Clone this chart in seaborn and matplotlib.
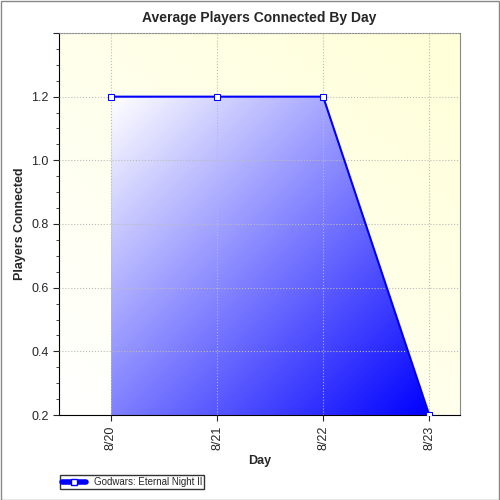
import numpy as np
import matplotlib
matplotlib.use("Agg")
import matplotlib.pyplot as plt
import seaborn as sns
from matplotlib.colors import LinearSegmentedColormap
from matplotlib.patches import Polygon, Rectangle
from matplotlib.lines import Line2D
from matplotlib.ticker import MultipleLocator

days = ["8/20", "8/21", "8/22", "8/23"]
players = [1.0, 1.0, 1.0, 0.0]
series_name = "Godwars: Eternal Night II"

sns.set_style("white")
plt.rcParams['font.family'] = ['Liberation Sans', 'DejaVu Sans']

fig = plt.figure(figsize=(5, 5), dpi=100)
fig.patch.set_facecolor("white")
fig.patches.append(Rectangle((0.001, 0.001), 0.997, 0.997, transform=fig.transFigure,
                             fill=False, edgecolor="#888888", lw=1))
ax = fig.add_axes([0.118, 0.17, 0.802, 0.764])
x = np.arange(len(days))
xlim = (-0.49, 3.29)
ylim = (0, 1.2)

# background gradient: white bottom-left to pale yellow top-right
gx, gy = np.meshgrid(np.linspace(0, 1, 200), np.linspace(0, 1, 200))
bg = LinearSegmentedColormap.from_list("bg", ["#ffffff", "#ffffd8"])
ax.imshow((gx + gy) / 2, cmap=bg, extent=(*xlim, *ylim), origin="lower",
          aspect="auto", zorder=0, vmin=0, vmax=1)

# area fill gradient: white top-left to blue bottom-right
fx0, fx1 = x[0], x[-1]
fg = LinearSegmentedColormap.from_list("fg", ["#ffffff", "#0000ff"])
val = (gx + (1 - gy)) / 2
im = ax.imshow(val, cmap=fg, extent=(fx0, fx1, 0, 1.0), origin="lower",
               aspect="auto", zorder=1, vmin=0, vmax=1)
poly = Polygon(list(zip(x, players)) + [(fx1, 0), (fx0, 0)], closed=True,
               transform=ax.transData, facecolor="none", edgecolor="none")
ax.add_patch(poly)
im.set_clip_path(poly)

sns.lineplot(x=x, y=players, ax=ax, color="#0000ff", lw=1.5, marker="s",
             markersize=5, markerfacecolor="white", markeredgecolor="#0000ff",
             zorder=3, legend=False)

ax.set_xlim(*xlim)
ax.set_ylim(*ylim)
ax.set_xticks(x)
ax.set_xticklabels(days, rotation=90, fontsize=9)
ax.yaxis.set_major_locator(MultipleLocator(0.2))
ax.yaxis.set_minor_locator(MultipleLocator(0.05))
ax.set_yticklabels([f"{v:.1f}" for v in np.arange(0, 1.21, 0.2)], fontsize=9)
ax.tick_params(axis="y", which="both", left=True, direction="out", length=4)
ax.tick_params(axis="y", which="minor", length=2)
ax.tick_params(axis="x", bottom=True, direction="out", length=4)
ax.grid(True, color="#bbbbbb", ls=":", lw=0.8)
ax.set_axisbelow(False)
for s in ax.spines.values():
    s.set_color("#888888")
ax.spines["left"].set_color("black")
ax.spines["bottom"].set_color("black")

ax.set_title("Average Players Connected By Day", fontsize=10, fontweight="bold", pad=8)
ax.set_xlabel("Day", fontsize=9, fontweight="bold")
ax.set_ylabel("Players Connected", fontsize=9, fontweight="bold")

handle = Line2D([], [], color="#0000ff", lw=4, marker="s", markersize=5,
                markerfacecolor="white", markeredgecolor="#0000ff")
leg = fig.legend([handle], [series_name], loc="lower left", bbox_to_anchor=(0.11, 0.012),
                 fontsize=7, frameon=True, fancybox=False, edgecolor="black",
                 borderpad=0.2, handlelength=2.5)

fig.savefig("out.png", dpi=100)
